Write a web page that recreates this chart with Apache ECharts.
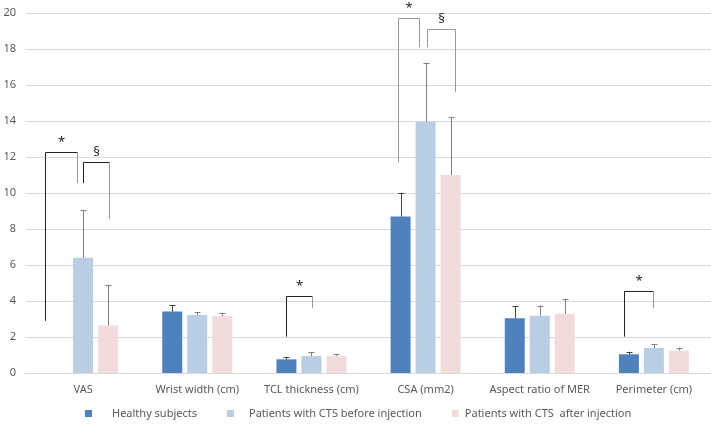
<!DOCTYPE html>
<html>
<head>
<meta charset="utf-8">
<script src="https://cdn.jsdelivr.net/npm/echarts@6/dist/echarts.min.js"></script>
<style>html,body{margin:0;padding:0;background:#fff}#c{width:711px;height:425px}</style>
</head>
<body>
<div id="c"></div>
<script>
const categories = ['VAS', 'Wrist width (cm)', 'TCL thickness (cm)', 'CSA (mm2)', 'Aspect ratio of MER', 'Perimeter (cm)'];
const seriesNames = ['Healthy subjects', 'Patients with CTS before injection', 'Patients with CTS  after injection'];
const healthy = [0, 3.41, 0.76, 8.69, 3.04, 1.04];
const before = [6.4, 3.22, 0.94, 13.96, 3.18, 1.39];
const after = [2.64, 3.17, 0.94, 11.0, 3.29, 1.24];
const healthySD = [0, 0.35, 0.11, 1.33, 0.68, 0.14];
const beforeSD = [2.66, 0.18, 0.23, 3.28, 0.56, 0.2];
const afterSD = [2.25, 0.18, 0.12, 3.2, 0.82, 0.17];
const yTicks = [0, 2, 4, 6, 8, 10, 12, 14, 16, 18, 20];
// significance brackets: category, symbol, left-bottom value, top value, right-bottom value
const bracketCat = [0, 0, 2, 3, 3, 5];
const bracketSym = ['*', '§', '*', '*', '§', '*'];
const bracketLeftVal = [2.9, 10.55, 2.02, 11.7, 18.1, 2.02];
const bracketTopVal = [12.3, 11.7, 4.3, 19.7, 19.1, 4.55];
const bracketRightVal = [10.55, 8.55, 3.6, 18.1, 15.6, 3.6];

const colors = ['#4f81bd', '#b9cde5', '#f2dcdb'];
const values = [healthy, before, after];
const sds = [healthySD, beforeSD, afterSD];
const FONT = 'Noto Sans';

// rendering layout (pixels relative to category center)
const barStep = 25;
const bracketXOffsets = [[-38, -6], [0, 26], [-25, 1], [-28, -7], [1, 29], [-30, -1]];
const bracketColors = [['#222', '#999'], ['#222', '#999'], ['#222', '#999'], ['#999', '#999'], ['#999', '#999'], ['#222', '#999']];
const legendPads = [15, 10, 1];

const series = [];
for (let s = 0; s < 3; s++) {
  series.push({
    name: seriesNames[s], type: 'bar', data: values[s], barWidth: 20, barGap: '25%',
    itemStyle: { color: colors[s] }, z: 2
  });
}
for (let s = 0; s < 3; s++) {
  series.push({
    type: 'custom', name: 'err' + s, silent: true, z: 3,
    data: categories.map((c, i) => [i, values[s][i], values[s][i] + sds[s][i]]),
    renderItem: (params, api) => {
      const i = api.value(0);
      if (sds[s][i] === 0) return null;
      const base = api.coord([i, api.value(1)]);
      const top = api.coord([i, api.value(2)]);
      const x = Math.round(base[0] + (s - 1) * barStep) + 0.5;
      const col = s === 0 ? '#404040' : '#7f7f7f';
      return { type: 'group', children: [
        { type: 'line', shape: { x1: x, y1: base[1], x2: x, y2: top[1] }, style: { stroke: col, lineWidth: 1 } },
        { type: 'line', shape: { x1: x - 3, y1: Math.round(top[1]) + 0.5, x2: x + 3, y2: Math.round(top[1]) + 0.5 }, style: { stroke: col, lineWidth: 1 } }
      ]};
    }
  });
}
series.push({
  type: 'custom', name: 'brackets', silent: true, z: 4,
  data: bracketCat.map((c, k) => [c, bracketLeftVal[k], bracketTopVal[k], bracketRightVal[k], k]),
  renderItem: (params, api) => {
    const k = api.value(4);
    const c = api.value(0);
    const cx = api.coord([c, 0])[0];
    const xl = Math.round(cx + bracketXOffsets[k][0]) + 0.5;
    const xr = Math.round(cx + bracketXOffsets[k][1]) + 0.5;
    const yl = api.coord([c, api.value(1)])[1];
    const yt = Math.round(api.coord([c, api.value(2)])[1]) + 0.5;
    const yr = api.coord([c, api.value(3)])[1];
    const cl = bracketColors[k];
    return { type: 'group', children: [
      { type: 'line', shape: { x1: xl, y1: yl, x2: xl, y2: yt }, style: { stroke: cl[0], lineWidth: 1 } },
      { type: 'line', shape: { x1: xl, y1: yt, x2: xr, y2: yt }, style: { stroke: cl[0], lineWidth: 1 } },
      { type: 'line', shape: { x1: xr, y1: yt, x2: xr, y2: yr }, style: { stroke: cl[1], lineWidth: 1 } },
      { type: 'text', style: { text: bracketSym[k], x: (xl + xr) / 2, y: yt - 4, align: 'center', verticalAlign: 'bottom', fill: '#222', font: '13px "' + FONT + '"' } }
    ]};
  }
});

const chart = echarts.init(document.getElementById('c'), null, { renderer: 'canvas' });
chart.setOption({
  animation: false,
  textStyle: { fontFamily: FONT },
  grid: { left: 26, right: 0, top: 13, bottom: 52 },
  legend: {
    data: seriesNames.map((n, i) => ({ name: n, textStyle: { padding: [0, 0, 0, legendPads[i]] } })),
    bottom: 1, left: 80, icon: 'rect', itemWidth: 7, itemHeight: 7, itemGap: 30,
    textStyle: { color: '#595959', fontSize: 11, fontFamily: FONT }
  },
  xAxis: {
    type: 'category', data: categories,
    axisLine: { lineStyle: { color: '#d9d9d9' } }, axisTick: { show: false },
    axisLabel: { color: '#595959', fontSize: 11, margin: 11, fontFamily: FONT, interval: 0 }
  },
  yAxis: {
    type: 'value', min: yTicks[0], max: yTicks[yTicks.length - 1], interval: 2,
    axisLabel: { color: '#595959', fontSize: 11, margin: 10, fontFamily: FONT },
    splitLine: { lineStyle: { color: '#d9d9d9' } }, axisLine: { show: false }
  },
  series: series
});
</script>
</body>
</html>
